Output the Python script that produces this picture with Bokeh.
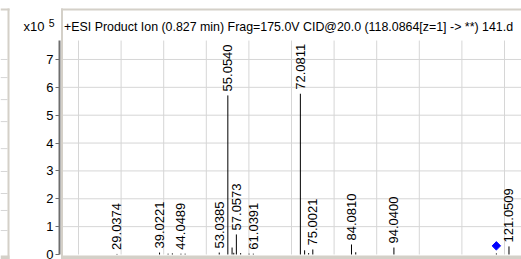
import math
from bokeh.plotting import figure
from bokeh.layouts import row
from bokeh.models import Range1d, Label, FixedTicker, LinearAxis
from bokeh.embed import file_html
from bokeh.resources import INLINE
from bokeh.core.properties import value

# ---- data (intensity in units of 1e5 counts) ----
title_text = "+ESI Product Ion (0.827 min) Frag=175.0V CID@20.0 (118.0864[z=1] -> **) 141.d"
scale_text = "x10"
scale_exp = "5"

label_mz = [29.0374, 39.0221, 44.0489, 53.0385, 55.0540, 57.0573, 61.0391,
            72.0811, 75.0021, 84.0810, 94.0400, 121.0509]
label_int = [0.02, 0.07, 0.03, 0.07, 5.71, 0.72, 0.03,
             5.77, 0.18, 0.36, 0.25, 0.29]
label_txt = ["29.0374", "39.0221", "44.0489", "53.0385", "55.0540", "57.0573", "61.0391",
             "72.0811", "75.0021", "84.0810", "94.0400", "121.0509"]

minor_mz = [41.03, 42.03, 45.03, 56.05, 56.45, 58.06, 60.04, 73.08, 74.02, 85.08, 118.09]
minor_int = [0.03, 0.04, 0.03, 0.25, 0.06, 0.05, 0.03, 0.15, 0.05, 0.08, 0.04]

precursor_mz = [118.0864]
precursor_y = [0.31]

y_ticks = [0, 1, 2, 3, 4, 5, 6, 7]
x_grid = [20, 30, 40, 50, 60, 70, 80, 90, 100, 110, 120]
left_panel_grid = [7.0, 6.35, 5.56, 4.77, 3.80, 2.98, 2.19, 1.58, 0.86]

FONT = "Liberation Sans"
X0, X1 = 15.54, 123.99
Y0, Y1 = -0.1795, 9.117
YAX = 7.68
Y_X10, Y_EXP = 8.18, 8.31
PANEL = "#d4d0c8"
GRID = "#d6d6d6"

# ---- left strip (edge of the neighbouring panel) ----
lp = figure(width=10, height=259, x_range=Range1d(0, 10), y_range=Range1d(Y0, Y1),
            x_axis_location=None, y_axis_location=None, toolbar_location=None,
            output_backend="svg", min_border=0)
lp.outline_line_color = None
lp.grid.visible = False
lp.segment(x0=[0] * len(left_panel_grid), y0=left_panel_grid, x1=[7] * len(left_panel_grid),
           y1=left_panel_grid, line_color=GRID, line_width=1)
lp.segment(x0=[8], y0=[Y0], x1=[8], y1=[8.83], line_color=PANEL, line_width=2)
lp.segment(x0=[0], y0=[8.794], x1=[9], y1=[8.794], line_color=PANEL, line_width=2)
lp.quad(left=[0], right=[9], bottom=[Y0], top=[-0.04], fill_color=PANEL, line_color=None)

# ---- main spectrum ----
p = figure(width=511, height=259, x_range=Range1d(X0, X1), y_range=Range1d(Y0, Y1),
           x_axis_location=None, toolbar_location=None, output_backend="svg",
           min_border_left=49, min_border_right=0, min_border_top=0, min_border_bottom=0)
p.outline_line_color = None
p.grid.visible = False

# grid lines
p.segment(x0=x_grid, y0=[0] * len(x_grid), x1=x_grid, y1=[YAX] * len(x_grid),
          line_color=GRID, line_width=1)
hy = y_ticks[1:]
p.segment(x0=[16.2] * len(hy), y0=hy, x1=[X1] * len(hy), y1=hy, line_color=GRID, line_width=1)

# panel borders
p.segment(x0=[16.13], y0=[Y0], x1=[16.13], y1=[8.83], line_color=PANEL, line_width=2)
p.segment(x0=[15.9], y0=[8.794], x1=[X1], y1=[8.794], line_color=PANEL, line_width=2)
p.quad(left=[15.9], right=[X1], bottom=[Y0], top=[-0.04], fill_color=PANEL, line_color=None)

# peaks
p.segment(x0=minor_mz, y0=[0] * len(minor_mz), x1=minor_mz, y1=minor_int,
          line_color="black", line_width=1)
p.segment(x0=label_mz, y0=[0] * len(label_mz), x1=label_mz, y1=label_int,
          line_color="black", line_width=1)
p.text(x=label_mz, y=label_int, text=label_txt, angle=math.pi / 2,
       text_align="left", text_baseline="middle", y_offset=-4,
       text_font=value(FONT), text_font_size="13px", text_color="black")

# precursor marker
p.scatter(x=precursor_mz, y=precursor_y, marker="square", angle=math.pi / 4,
          size=6, fill_color="#0000ff", line_color="#0000ff")

# y axis
ax = p.yaxis[0]
ax.ticker = FixedTicker(ticks=y_ticks)
ax.bounds = (0, YAX)
ax.axis_line_color = "#6e6e6e"
ax.axis_line_width = 2
ax.major_tick_line_color = "#6e6e6e"
ax.major_tick_out = 4
ax.major_tick_in = 0
ax.minor_tick_line_color = None
ax.major_label_standoff = 2
ax.major_label_text_font = FONT
ax.major_label_text_font_size = "13px"
ax.major_label_text_color = "black"

# scale factor "x10^5" shown as axis-side labels
def scale_axis(y, txt, size, standoff):
    a = LinearAxis(ticker=FixedTicker(ticks=[y]), major_label_overrides={y: txt},
                   axis_line_color=None, major_tick_line_color=None,
                   minor_tick_line_color=None, major_tick_out=0, major_tick_in=0,
                   major_label_standoff=standoff, major_label_text_font=FONT,
                   major_label_text_font_size=size, major_label_text_color="black")
    p.add_layout(a, "left")

scale_axis(Y_EXP, scale_exp, "10.5px", -11)
scale_axis(Y_X10, scale_text, "13px", -1)

# title
p.add_layout(Label(x=4.5, y=233, x_units="screen", y_units="screen", text=title_text,
                   text_font=FONT, text_font_size="12.4px", text_color="black",
                   text_baseline="middle", text_align="left"))

layout = row(lp, p)
open("out.html", "w").write(file_html(layout, INLINE))
